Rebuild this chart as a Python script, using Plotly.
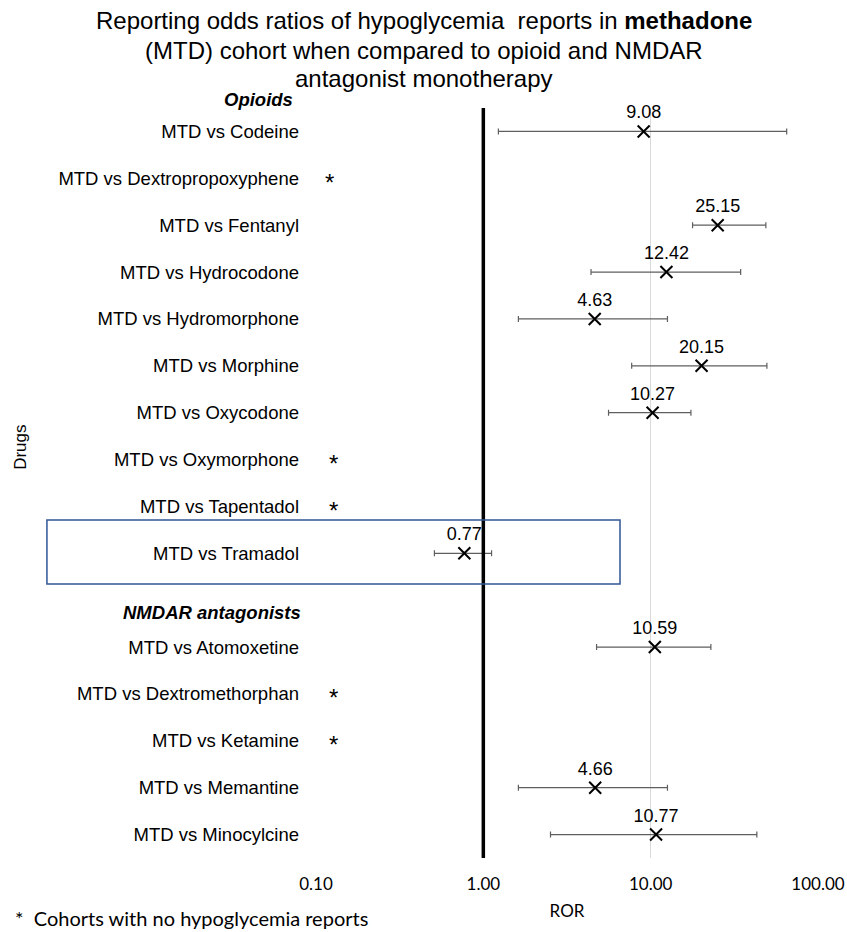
import math
import plotly.graph_objects as go

# ---- data ----
categories = ["MTD vs Codeine", "MTD vs Dextropropoxyphene", "MTD vs Fentanyl", "MTD vs Hydrocodone",
              "MTD vs Hydromorphone", "MTD vs Morphine", "MTD vs Oxycodone", "MTD vs Oxymorphone",
              "MTD vs Tapentadol", "MTD vs Tramadol", " ",
              "MTD vs Atomoxetine", "MTD vs Dextromethorphan", "MTD vs Ketamine",
              "MTD vs Memantine", "MTD vs Minocylcine"]

drugs = ["MTD vs Codeine", "MTD vs Fentanyl", "MTD vs Hydrocodone", "MTD vs Hydromorphone",
         "MTD vs Morphine", "MTD vs Oxycodone", "MTD vs Tramadol", "MTD vs Atomoxetine",
         "MTD vs Memantine", "MTD vs Minocylcine"]
ror = [9.08, 25.15, 12.42, 4.63, 20.15, 10.27, 0.77, 10.59, 4.66, 10.77]
ci_low = [1.23, 17.8, 4.4, 1.62, 7.7, 5.6, 0.51, 4.75, 1.62, 2.52]
ci_high = [65.0, 48.8, 34.5, 12.6, 49.5, 17.4, 1.12, 22.9, 12.6, 43.1]

no_report = ["MTD vs Dextropropoxyphene", "MTD vs Oxymorphone", "MTD vs Tapentadol",
             "MTD vs Dextromethorphan", "MTD vs Ketamine"]
no_report_x = [0.121, 0.128, 0.128, 0.128, 0.128]

tick_vals = [0.1, 1, 10, 100]
tick_text = ["0.10", "1.00", "10.00", "100.00"]

title_lines = ["Reporting odds ratios of hypoglycemia  reports in <b>methadone</b>",
               "(MTD) cohort when compared to opioid and NMDAR",
               "antagonist monotherapy"]

SANS = "Liberation Sans, Arial"

# ---- figure ----
fig = go.Figure()

fig.add_trace(go.Scatter(
    x=ror, y=drugs, mode="markers+text",
    text=[f"{v:.2f}" for v in ror], textposition="top center",
    textfont=dict(family=SANS, size=18, color="#000000"),
    marker=dict(symbol="x-thin", size=12, line=dict(width=2, color="#000000"), color="#000000"),
    error_x=dict(type="data", symmetric=False,
                 array=[h - v for h, v in zip(ci_high, ror)],
                 arrayminus=[v - l for v, l in zip(ror, ci_low)],
                 color="#5f5f5f", thickness=1.2, width=3),
    showlegend=False, cliponaxis=False, hoverinfo="skip",
))

fig.add_shape(type="line", xref="x", yref="paper", x0=1, x1=1, y0=0, y1=1,
              line=dict(color="#000000", width=3.5))
fig.add_shape(type="rect", xref="paper", yref="paper",
              x0=-0.536, x1=0.6056, y0=0.3653, y1=0.4507,
              line=dict(color="#2f5597", width=1.5))

annotations = []
for line, yp in zip(title_lines, [1.116, 1.0773, 1.0387]):
    annotations.append(dict(text=line, xref="paper", yref="paper", x=0.215, y=yp,
                            xanchor="center", yanchor="middle", showarrow=False,
                            font=dict(family=SANS, size=24, color="#000000")))
for nx, cat in zip(no_report_x, no_report):
    annotations.append(dict(text="*", xref="x", yref="y", x=math.log10(nx), y=cat,
                            xanchor="center", yanchor="middle", yshift=-4, showarrow=False,
                            font=dict(family=SANS, size=24, color="#000000")))
annotations += [
    dict(text="<b><i>Opioids</i></b>", xref="paper", yref="paper", x=-0.042, y=1.0107,
         xanchor="right", yanchor="middle", showarrow=False,
         font=dict(family=SANS, size=18.5, color="#000000")),
    dict(text="<b><i>NMDAR antagonists</i></b>", xref="paper", yref="paper", x=-0.026, y=0.328,
         xanchor="right", yanchor="middle", showarrow=False,
         font=dict(family=SANS, size=18.5, color="#000000")),
    dict(text="Drugs", xref="paper", yref="paper", x=-0.588, y=0.548, textangle=-90,
         xanchor="center", yanchor="middle", showarrow=False,
         font=dict(family=SANS, size=17, color="#000000")),
    dict(text="*  Cohorts with no hypoglycemia reports", xref="paper", yref="paper",
         x=-0.603, y=-0.08, xanchor="left", yanchor="middle", showarrow=False,
         font=dict(family="Lato", size=20, color="#000000")),
]

fig.update_layout(
    width=847, height=932,
    margin=dict(l=316, r=29, t=108, b=74, autoexpand=False),
    plot_bgcolor="#ffffff", paper_bgcolor="#ffffff",
    hovermode=False,
    xaxis=dict(type="log", range=[-1, 2], tickvals=tick_vals, ticktext=tick_text, automargin=False,
               showgrid=True, gridcolor="#d9d9d9", gridwidth=1, zeroline=False, showline=False,
               ticks="", tickfont=dict(family="Lato", size=17, color="#000000"),
               ticklabelstandoff=14,
               title=dict(text="ROR", font=dict(family="Lato", size=17, color="#000000"), standoff=12)),
    yaxis=dict(type="category", categoryorder="array", categoryarray=categories, automargin=False,
               range=[len(categories) - 0.5, -0.5], showgrid=False, zeroline=False, showline=False,
               ticks="", tickfont=dict(family=SANS, size=18.5, color="#000000"),
               ticklabelstandoff=16, tickvals=categories, ticktext=categories),
    annotations=annotations,
)

fig.write_html("out.html", config={"displayModeBar": False},
               post_script="document.body.style.margin='0px';"
                           "document.documentElement.style.overflow='hidden';")
